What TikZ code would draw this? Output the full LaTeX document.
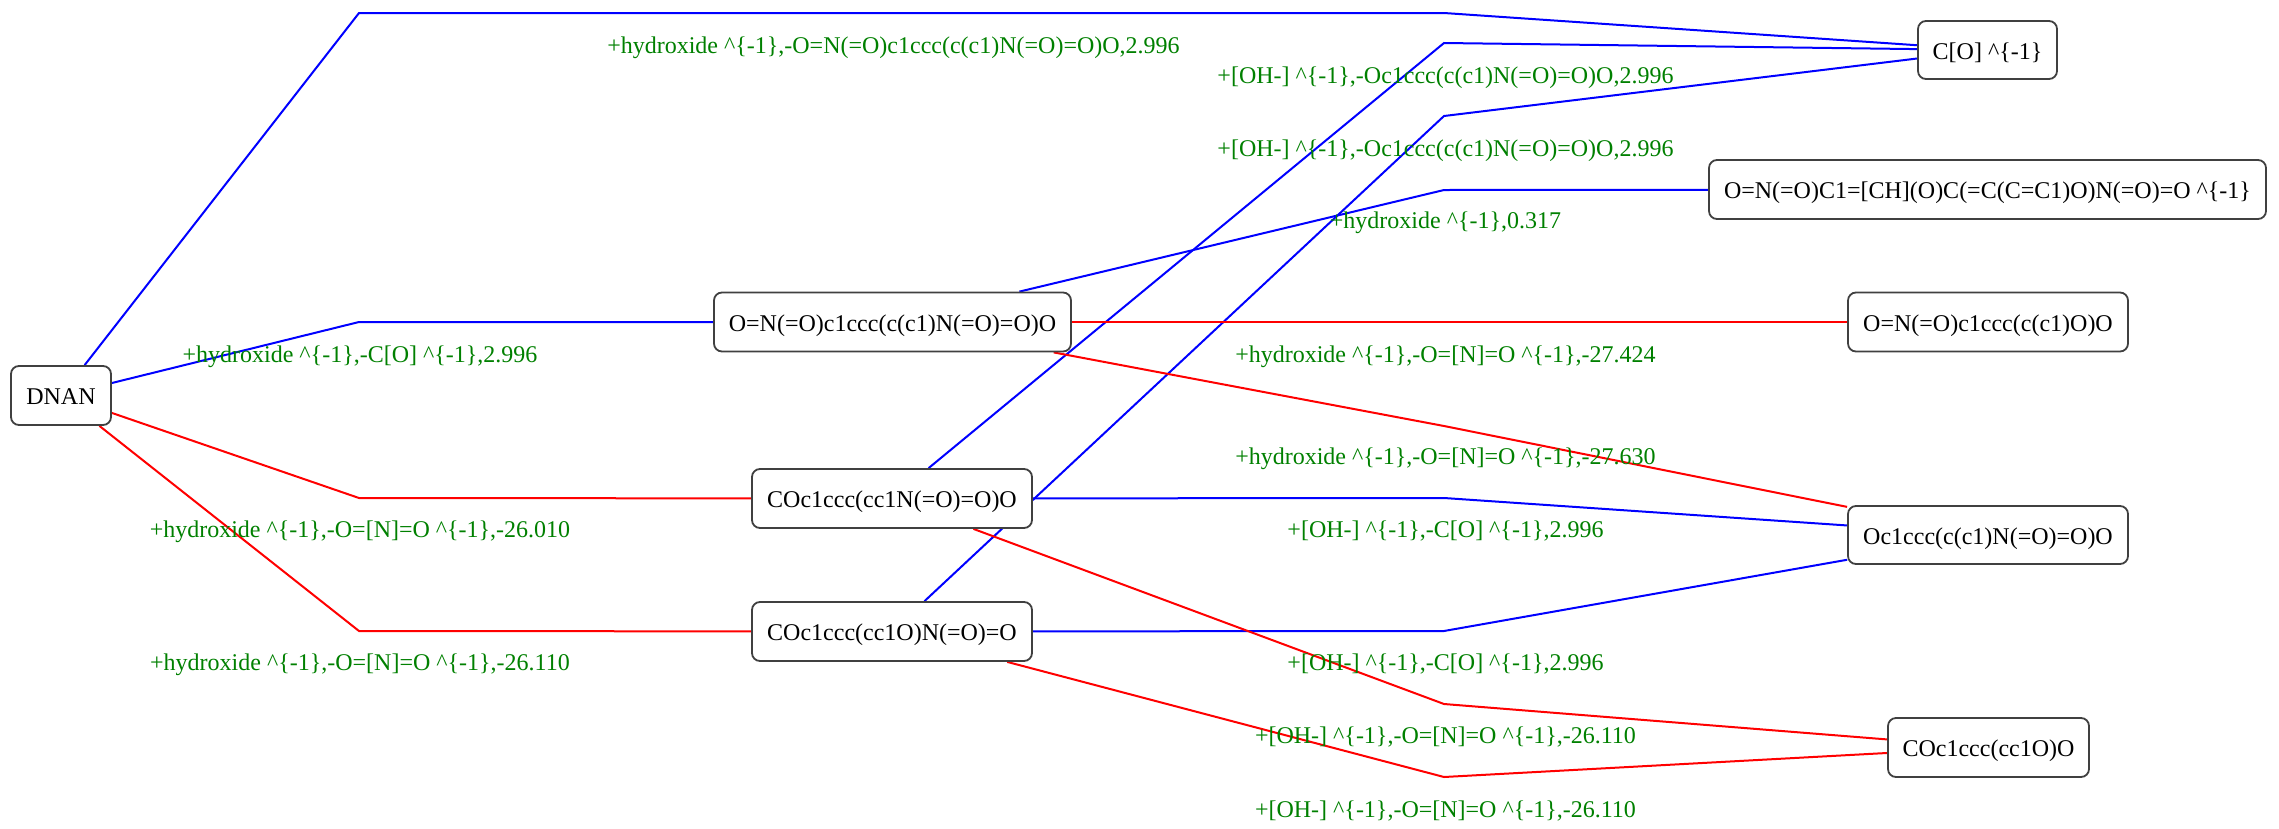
\documentclass[tikz,border=0pt]{standalone}
\usepackage{fontspec}
\setmainfont{Liberation Serif}
\usetikzlibrary{backgrounds}
\definecolor{lgreen}{HTML}{008000}
\definecolor{eblue}{HTML}{0000FF}
\definecolor{ered}{HTML}{FF0000}
\begin{document}
\begin{tikzpicture}[x=1pt,y=-1pt,
  box/.style={draw=black!75, line width=1.8pt, rounded corners=8pt, fill=white, inner sep=0pt,
    text height=22pt, text depth=4pt, minimum height=59pt, font=\fontsize{24}{28}\selectfont},
  bl/.style={draw=eblue, line width=2pt},
  rd/.style={draw=ered, line width=2pt},
  lab/.style={text=lgreen, anchor=base, inner sep=0pt, font=\fontsize{24}{28}\selectfont}]
\useasboundingbox (0,0) rectangle (2279,828);
% nodes
\node[box, minimum width=100pt] (dnan) at (61,395.5) {DNAN};
\node[box, minimum width=357pt] (box1) at (892.5,322) {O=N(=O)c1ccc(c(c1)N(=O)=O)O};
\node[box, minimum width=280pt] (box2) at (892,498.5) {COc1ccc(cc1N(=O)=O)O};
\node[box, minimum width=280pt] (box3) at (892,631.5) {COc1ccc(cc1O)N(=O)=O};
\node[box, minimum width=139pt, minimum height=58pt] (co) at (1987.5,50) {C[O] \^{}\{-1\}};
\node[box, minimum width=557pt] (oncm) at (1987.5,189.5) {O=N(=O)C1=[CH](O)C(=C(C=C1)O)N(=O)=O \^{}\{-1\}};
\node[box, minimum width=280pt] (onod) at (1988,322) {O=N(=O)c1ccc(c(c1)O)O};
\node[box, minimum width=280pt, minimum height=58pt] (ocnn) at (1988,535) {Oc1ccc(c(c1)N(=O)=O)O};
\node[box, minimum width=201pt] (coco) at (1988.5,747.5) {COc1ccc(cc1O)O};
% bend points
\coordinate (b1) at (359,13);
\coordinate (c1) at (1444,13);
\coordinate (b2) at (359,322);
\coordinate (b3) at (359,498);
\coordinate (b4) at (359,631);
\coordinate (c5) at (1444,43);
\coordinate (c6) at (1444,116);
\coordinate (c7) at (1444,190);
\coordinate (c8) at (1444,322);
\coordinate (c9) at (1444,426);
\coordinate (c10) at (1444,498);
\coordinate (c11) at (1444,631);
\coordinate (c12) at (1444,704);
\coordinate (c13) at (1444,777);
% edges
\begin{scope}[on background layer]
\draw[bl] (dnan) -- (b1) -- (c1) -- (co);
\draw[bl] (dnan) -- (b2) -- (box1);
\draw[rd] (dnan) -- (b3) -- (box2);
\draw[rd] (dnan) -- (b4) -- (box3);
\draw[bl] (box2) -- (c5) -- (co);
\draw[bl] (box3) -- (c6) -- (co);
\draw[bl] (box1) -- (c7) -- (oncm);
\draw[rd] (box1) -- (c8) -- (onod);
\draw[rd] (box1) -- (c9) -- (ocnn);
\draw[bl] (box2) -- (c10) -- (ocnn);
\draw[bl] (box3) -- (c11) -- (ocnn);
\draw[rd] (box2) -- (c12) -- (coco);
\draw[rd] (box3) -- (c13) -- (coco);
\end{scope}
% labels
\node[lab] (l1) at (893.5,53) {+hydroxide \^{}\{-1\},-O=N(=O)c1ccc(c(c1)N(=O)=O)O,2.996};
\node[lab] (l2) at (360,362) {+hydroxide \^{}\{-1\},-C[O] \^{}\{-1\},2.996};
\node[lab] (l3) at (360,537) {+hydroxide \^{}\{-1\},-O=[N]=O \^{}\{-1\},-26.010};
\node[lab] (l4) at (360,670) {+hydroxide \^{}\{-1\},-O=[N]=O \^{}\{-1\},-26.110};
\node[lab] (l5) at (1445.5,83) {+[OH-] \^{}\{-1\},-Oc1ccc(c(c1)N(=O)=O)O,2.996};
\node[lab] (l6) at (1445.5,156) {+[OH-] \^{}\{-1\},-Oc1ccc(c(c1)N(=O)=O)O,2.996};
\node[lab] (l7) at (1445.5,228) {+hydroxide \^{}\{-1\},0.317};
\node[lab] (l8) at (1445.5,362) {+hydroxide \^{}\{-1\},-O=[N]=O \^{}\{-1\},-27.424};
\node[lab] (l9) at (1445.5,464) {+hydroxide \^{}\{-1\},-O=[N]=O \^{}\{-1\},-27.630};
\node[lab] (l10) at (1445.5,537) {+[OH-] \^{}\{-1\},-C[O] \^{}\{-1\},2.996};
\node[lab] (l11) at (1445.5,670) {+[OH-] \^{}\{-1\},-C[O] \^{}\{-1\},2.996};
\node[lab] (l12) at (1445.5,743) {+[OH-] \^{}\{-1\},-O=[N]=O \^{}\{-1\},-26.110};
\node[lab] (l13) at (1445.5,817) {+[OH-] \^{}\{-1\},-O=[N]=O \^{}\{-1\},-26.110};
\end{tikzpicture}
\end{document}
